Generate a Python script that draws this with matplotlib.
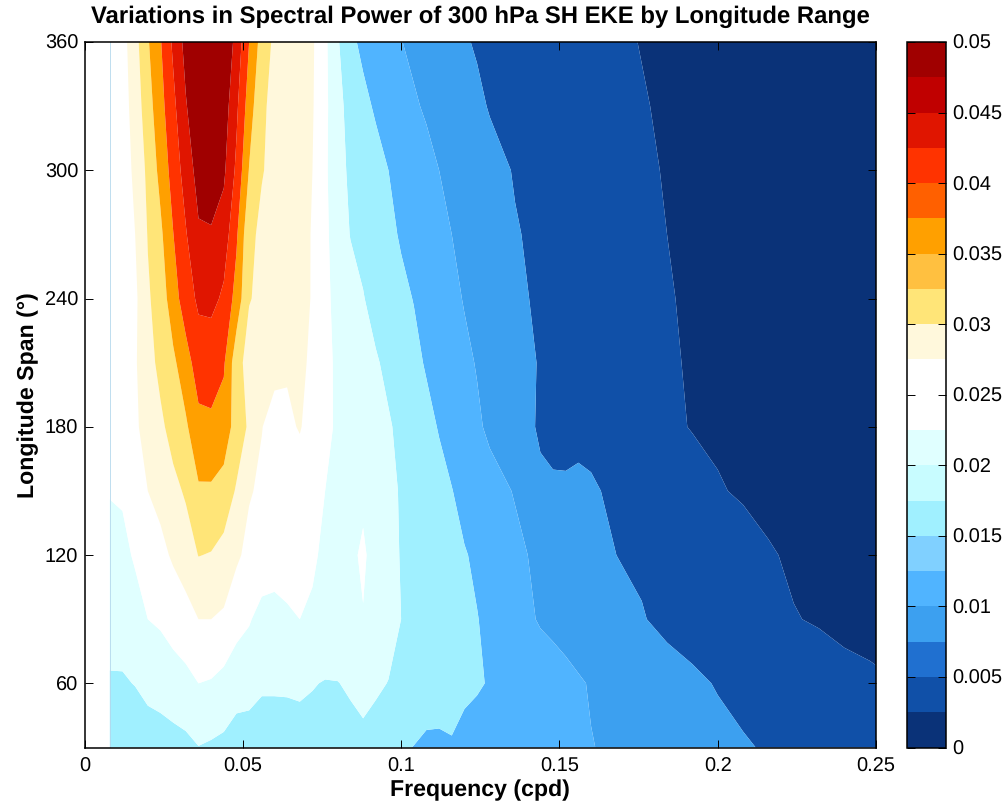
import numpy as np
import matplotlib
matplotlib.use('Agg')
import matplotlib.pyplot as plt
from matplotlib.colors import ListedColormap, BoundaryNorm
from matplotlib.cm import ScalarMappable

plt.rcParams['font.family'] = ['Liberation Sans', 'DejaVu Sans']
plt.rcParams['text.hinting'] = 'none'

# frequency columns (cpd)
freqs = [0.008, 0.012, 0.016, 0.020, 0.024, 0.028, 0.032, 0.036, 0.040, 0.044,
         0.048, 0.052, 0.056, 0.060, 0.064, 0.068, 0.072, 0.076, 0.080, 0.084,
         0.088, 0.092, 0.096, 0.100, 0.104, 0.108, 0.112, 0.116, 0.120, 0.124,
         0.128, 0.136, 0.144, 0.148, 0.152, 0.156, 0.160, 0.168, 0.176, 0.184,
         0.192, 0.200, 0.208, 0.216, 0.224, 0.232, 0.240, 0.248, 0.256]

spans = [30, 60, 90, 120, 150, 180, 210, 240, 270, 300, 330, 360]

# spectral power, one list per longitude span
power_30 = [.0180, .0180, .0180, .0185, .0186, .0186, .0190, .0199, .0195, .0191,
            .0183, .0178, .0180, .0180, .0182, .0185, .0185, .0180, .0175, .0186,
            .0190, .0183, .0175, .0165, .0159, .0151, .0152, .0157, .0148, .0147,
            .0143, .0137, .0131, .0128, .0126, .0123, .0121, .0115, .0108, .0102,
            .0096, .0089, .0083, .0077, .0069, .0062, .0054, .0047, .0040]
power_60 = [.0197, .0197, .0201, .0208, .0212, .0222, .0229, .0240, .0237, .0228,
            .0215, .0216, .0205, .0205, .0205, .0206, .0202, .0198, .0199, .0205,
            .0212, .0206, .0199, .0195, .0190, .0184, .0179, .0173, .0168, .0163,
            .0158, .0149, .0138, .0133, .0128, .0123, .0118, .0110, .0102, .0094,
            .0086, .0078, .0071, .0065, .0058, .0052, .0050, .0046, .0041]
power_90 = [.0212, .0213, .0223, .0240, .0246, .0256, .0265, .0280, .0280, .0274,
            .0255, .0243, .0228, .0228, .0236, .0240, .0237, .0231, .0228, .0232,
            .0239, .0232, .0215, .0200, .0194, .0188, .0181, .0175, .0168, .0161,
            .0153, .0133, .0117, .0113, .0109, .0104, .0100, .0091, .0082, .0072,
            .0066, .0058, .0050, .0045, .0041, .0038, .0032, .0029, .0027]
power_120 = [.0227, .0229, .0245, .0260, .0270, .0285, .0300, .0321, .0318, .0307,
             .0286, .0270, .0262, .0256, .0252, .0247, .0243, .0236, .0234, .0236,
             .0243, .0232, .0212, .0198, .0192, .0186, .0178, .0171, .0162, .0155,
             .0146, .0127, .0113, .0107, .0101, .0095, .0090, .0080, .0075, .0070,
             .0065, .0058, .0051, .0042, .0037, .0034, .0032, .0030, .0028]
power_150 = [.0242, .0245, .0262, .0280, .0291, .0309, .0325, .0355, .0354, .0344,
             .0316, .0283, .0274, .0268, .0261, .0256, .0248, .0240, .0236, .0234,
             .0236, .0225, .0209, .0197, .0190, .0181, .0170, .0161, .0150, .0141,
             .0132, .0118, .0086, .0084, .0085, .0091, .0087, .0069, .0064, .0057,
             .0049, .0042, .0037, .0034, .0032, .0030, .0028, .0026, .0024]
power_180 = [.0245, .0248, .0275, .0292, .0312, .0335, .0354, .0389, .0396, .0383,
             .0343, .0314, .0281, .0267, .0272, .0283, .0262, .0245, .0237, .0232,
             .0226, .0216, .0204, .0191, .0180, .0169, .0158, .0147, .0136, .0125,
             .0114, .0095, .0076, .0072, .0069, .0066, .0063, .0056, .0049, .0044,
             .0039, .0036, .0033, .0031, .0029, .0027, .0024, .0022, .0020]
power_210 = [.0245, .0250, .0276, .0305, .0331, .0352, .0384, .0419, .0410, .0405,
             .0335, .0305, .0298, .0290, .0285, .0287, .0274, .0246, .0236, .0228,
             .0218, .0204, .0191, .0178, .0168, .0157, .0147, .0137, .0127, .0118,
             .0111, .0091, .0078, .0074, .0070, .0067, .0064, .0057, .0051, .0044,
             .0037, .0034, .0031, .0028, .0025, .0022, .0020, .0018, .0016]
power_240 = [.0245, .0252, .0272, .0315, .0338, .0382, .0421, .0447, .0453, .0432,
             .0385, .0322, .0312, .0306, .0300, .0290, .0278, .0243, .0236, .0221,
             .0202, .0186, .0175, .0167, .0159, .0149, .0138, .0128, .0118, .0109,
             .0101, .0085, .0076, .0072, .0069, .0065, .0062, .0055, .0049, .0042,
             .0036, .0032, .0029, .0026, .0023, .0020, .0018, .0016, .0014]
power_270 = [.0245, .0255, .0280, .0322, .0352, .0399, .0437, .0475, .0474, .0462,
             .0406, .0328, .0313, .0306, .0302, .0291, .0278, .0245, .0228, .0198,
             .0188, .0179, .0167, .0157, .0148, .0139, .0129, .0120, .0112, .0104,
             .0097, .0082, .0074, .0070, .0067, .0064, .0061, .0054, .0046, .0040,
             .0035, .0030, .0027, .0024, .0021, .0018, .0016, .0014, .0012]
power_300 = [.0245, .0258, .0289, .0329, .0372, .0416, .0457, .0495, .0515, .0487,
             .0432, .0358, .0322, .0311, .0303, .0292, .0280, .0247, .0212, .0194,
             .0184, .0171, .0160, .0150, .0140, .0130, .0120, .0112, .0104, .0097,
             .0090, .0078, .0071, .0068, .0065, .0061, .0058, .0052, .0045, .0038,
             .0033, .0029, .0025, .0022, .0019, .0017, .0015, .0013, .0011]
power_330 = [.0245, .0262, .0297, .0343, .0386, .0430, .0477, .0510, .0530, .0500,
             .0448, .0380, .0325, .0312, .0305, .0295, .0283, .0249, .0211, .0187,
             .0168, .0156, .0147, .0136, .0124, .0116, .0109, .0101, .0092, .0086,
             .0078, .0073, .0067, .0064, .0061, .0058, .0055, .0048, .0042, .0036,
             .0031, .0026, .0023, .0020, .0018, .0016, .0014, .0012, .0010]
power_360 = [.0245, .0265, .0306, .0356, .0397, .0447, .0493, .0530, .0550, .0515,
             .0467, .0400, .0343, .0312, .0305, .0295, .0285, .0248, .0204, .0167,
             .0153, .0144, .0132, .0121, .0113, .0105, .0098, .0091, .0083, .0077,
             .0075, .0069, .0063, .0060, .0057, .0054, .0051, .0045, .0039, .0034,
             .0029, .0025, .0022, .0019, .0017, .0015, .0013, .0011, .0009]

contour_levels = [0, .004, .008, .012, .016, .020, .024, .028, .032, .036, .040,
                  .044, .048, .060]

band_colors = ['#0a3278', '#1050a8', '#2070d0', '#3ca0f0', '#50b4ff', '#80d0ff',
               '#a0f0ff', '#c8fcff', '#e0ffff', '#ffffff', '#ffffff', '#fff8dc',
               '#ffe578', '#ffc040', '#ffa000', '#ff6000', '#ff3300', '#e01500',
               '#c00000', '#a00000']
band_edges = [0, .0025, .005, .0075, .01, .0125, .015, .0175, .02, .0225, .025,
              .0275, .03, .0325, .035, .0375, .04, .0425, .045, .0475, .05]

cbar_ticks = [0, .005, .01, .015, .02, .025, .03, .035, .04, .045, .05]
cbar_labels = ['0', '0.005', '0.01', '0.015', '0.02', '0.025', '0.03', '0.035',
               '0.04', '0.045', '0.05']
x_ticks = [0, .05, .1, .15, .2, .25]
x_labels = ['0', '0.05', '0.1', '0.15', '0.2', '0.25']
y_ticks = [60, 120, 180, 240, 300, 360]

power = np.array([power_30, power_60, power_90, power_120, power_150, power_180,
                  power_210, power_240, power_270, power_300, power_330, power_360])

cmap = ListedColormap(band_colors)
norm = BoundaryNorm(band_edges, cmap.N)
fill_colors = [cmap(norm(l)) for l in contour_levels[:-1]]

W, H = 1006.0, 807.0
fig = plt.figure(figsize=(W / 100, H / 100), dpi=100)
ax = fig.add_axes([84.5 / W, (H - 747.5) / H, 791.5 / W, 705.5 / H])
cax = fig.add_axes([906.7 / W, (H - 747.5) / H, 39.0 / W, 705.5 / H])

ax.contourf(freqs, spans, power, levels=contour_levels, colors=fill_colors, antialiased=True)
ax.axvline(freqs[0], color='#b4d8ec', lw=0.6)

ax.set_xlim(0, 0.25)
ax.set_ylim(30, 360)
ax.set_xticks(x_ticks)
ax.set_xticklabels(x_labels)
ax.set_yticks(y_ticks)
ax.tick_params(direction='in', length=6, width=0.7, top=True, right=True,
               labelsize=14.4, pad=7)
ax.tick_params(axis='y', pad=4.5)
for s in ax.spines.values():
    s.set_linewidth(1.1)

ax.set_xlabel('Frequency (cpd)', fontsize=16.7, fontweight='bold', labelpad=3)
ax.set_ylabel('Longitude Span (\u00b0)', fontsize=16.7, fontweight='bold', labelpad=4)
ax.set_title('Variations in Spectral Power of 300 hPa SH EKE by Longitude Range',
             fontsize=17.2, fontweight='bold', pad=14)

cb = fig.colorbar(ScalarMappable(norm=norm, cmap=cmap), cax=cax, spacing='proportional',
                  ticks=cbar_ticks)
cb.ax.set_yticklabels(cbar_labels)
cb.ax.minorticks_off()
cb.ax.tick_params(direction='in', length=6, width=0.7, left=True, right=True,
                  labelsize=14.4, pad=5)
cb.outline.set_linewidth(1.1)

fig.savefig('out.png', dpi=100)
